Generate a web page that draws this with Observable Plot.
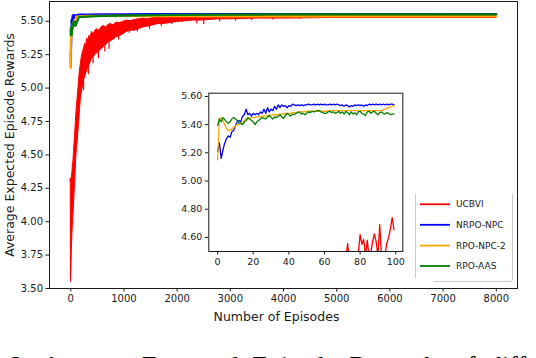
<!DOCTYPE html>
<html>
<head>
<meta charset="utf-8">
<script src="https://cdn.jsdelivr.net/npm/d3@7"></script>
<script src="https://cdn.jsdelivr.net/npm/@observablehq/plot@0.6"></script>
<style>
  html, body { margin: 0; padding: 0; background: #fff; overflow: hidden; }
  #wrap { position: relative; width: 536px; height: 358px; overflow: hidden; background: #fff; }
  #inset { position: absolute; left: 165px; top: 85px; }
  #caption { position: absolute; left: 10px; top: 353px; white-space: nowrap;
    font-family: "Liberation Serif", serif; font-size: 26px; line-height: 26px; word-spacing: 7px; color: #000; }
</style>
</head>
<body>
<div id="wrap"><div id="caption">2: Average Expected Episode Rewards of different</div></div>
<script>
// ---------- data ----------
const seriesNames = ["UCBVI", "NRPO-NPC", "RPO-NPC-2", "RPO-AAS"];
const seriesColors = ["#ff0000", "#0000ff", "#ffa500", "#008000"];

const mainXTicks = [0, 1000, 2000, 3000, 4000, 5000, 6000, 7000, 8000];
const mainYTicks = [3.5, 3.75, 4.0, 4.25, 4.5, 4.75, 5.0, 5.25, 5.5];
const insetXTicks = [0, 20, 40, 60, 80, 100];
const insetYTicks = [4.6, 4.8, 5.0, 5.2, 5.4, 5.6];

// first 100 episodes (inset)
const earlyEpisodes = d3.range(100);
const nrpoEarly = [5.21,5.27,5.16,5.22,5.27,5.30,5.32,5.31,5.35,5.36,5.39,5.42,5.43,5.42,5.46,5.47,5.51,5.47,5.48,5.46,
  5.48,5.47,5.48,5.47,5.49,5.48,5.51,5.48,5.52,5.49,5.51,5.50,5.53,5.51,5.54,5.52,5.54,5.53,5.535,5.52,
  5.535,5.53,5.545,5.54,5.535,5.54,5.535,5.54,5.535,5.54,5.54,5.545,5.54,5.54,5.545,5.54,5.545,5.54,5.545,5.54,
  5.545,5.54,5.54,5.545,5.54,5.545,5.54,5.545,5.54,5.535,5.54,5.53,5.54,5.535,5.525,5.535,5.53,5.54,5.535,5.54,
  5.535,5.54,5.53,5.54,5.535,5.545,5.54,5.545,5.54,5.545,5.54,5.545,5.54,5.545,5.54,5.545,5.54,5.545,5.545,5.54];
const rpoNpc2Early = [5.15,5.44,5.45,5.43,5.40,5.37,5.36,5.36,5.37,5.38,5.39,5.40,5.40,5.41,5.41,5.43,5.44,5.44,5.445,5.45,
  5.45,5.45,5.455,5.455,5.455,5.46,5.46,5.46,5.465,5.465,5.465,5.47,5.47,5.47,5.47,5.475,5.475,5.475,5.48,5.48,
  5.48,5.48,5.485,5.485,5.485,5.49,5.49,5.49,5.49,5.49,5.495,5.495,5.495,5.495,5.495,5.495,5.495,5.495,5.495,5.495,
  5.495,5.495,5.495,5.50,5.50,5.50,5.50,5.50,5.50,5.50,5.50,5.50,5.50,5.50,5.50,5.50,5.50,5.50,5.50,5.50,
  5.50,5.50,5.50,5.50,5.50,5.50,5.50,5.50,5.50,5.50,5.50,5.50,5.50,5.505,5.51,5.515,5.52,5.525,5.53,5.535];
const rpoAasEarly = [5.395,5.44,5.42,5.45,5.435,5.42,5.41,5.42,5.44,5.45,5.44,5.43,5.41,5.41,5.40,5.42,5.43,5.45,5.44,5.43,
  5.42,5.40,5.42,5.43,5.44,5.45,5.445,5.44,5.455,5.465,5.45,5.44,5.455,5.45,5.46,5.47,5.455,5.445,5.465,5.48,
  5.47,5.46,5.475,5.47,5.48,5.485,5.49,5.475,5.48,5.47,5.48,5.49,5.485,5.495,5.49,5.495,5.50,5.50,5.49,5.485,
  5.48,5.48,5.49,5.495,5.485,5.49,5.48,5.485,5.495,5.48,5.49,5.475,5.495,5.485,5.47,5.49,5.475,5.485,5.47,5.49,
  5.495,5.48,5.475,5.465,5.49,5.495,5.48,5.49,5.495,5.48,5.47,5.485,5.49,5.48,5.475,5.485,5.48,5.47,5.475,5.475];
const ucbviInsetEpisodes = d3.range(60, 100);
const ucbviInset = [4.35,4.30,4.38,4.33,4.40,4.36,4.42,4.37,4.44,4.40,4.46,4.41,4.45,4.555,4.42,4.47,4.43,4.46,4.44,4.49,
  4.62,4.55,4.585,4.47,4.58,4.46,4.49,4.57,4.625,4.57,4.47,4.69,4.46,4.44,4.48,4.56,4.60,4.66,4.74,4.655];

// later episodes (main chart)
const lateEpisodes = [150, 300, 600, 1000, 1500, 2000, 3000, 4000, 5000, 6000, 7000, 7999];
const nrpoLate    = [5.55, 5.55, 5.552, 5.552, 5.553, 5.553, 5.554, 5.554, 5.553, 5.553, 5.553, 5.553];
const rpoNpc2Late = [5.535, 5.54, 5.54, 5.54, 5.538, 5.538, 5.537, 5.537, 5.537, 5.537, 5.537, 5.537];
const rpoAasLate  = [5.53, 5.535, 5.54, 5.543, 5.546, 5.548, 5.55, 5.551, 5.551, 5.551, 5.551, 5.551];

// UCBVI noisy envelope over all episodes (lower / upper edge of the dense band)
const ucbviEnvEpisodes = [0,4,10,20,30,40,50,60,70,80,90,100,115,130,145,160,175,190,210,230,
  250,270,290,310,330,350,370,400,430,460,500,540,580,620,660,700,750,800,860,920,
  980,1050,1120,1200,1280,1370,1460,1560,1650,1750,1850,2000,2150,2300,2450,2600,2800,3000,3500,4000,
  5000,6000,7000,7999];
const ucbviLow  = [4.28,3.55,3.62,3.78,3.90,3.98,4.05,4.12,4.20,4.28,4.36,4.45,4.55,4.60,4.68,4.76,4.85,4.92,4.97,5.02,
  5.06,5.08,5.11,5.13,5.16,5.17,5.19,5.22,5.23,5.25,5.26,5.28,5.29,5.31,5.32,5.34,5.35,5.36,5.38,5.39,
  5.40,5.42,5.43,5.43,5.44,5.455,5.46,5.47,5.48,5.48,5.485,5.495,5.50,5.505,5.505,5.51,5.515,5.515,5.52,5.52,
  5.525,5.525,5.525,5.525];
const ucbviHigh = [4.32,4.32,4.30,4.33,4.36,4.42,4.45,4.52,4.58,4.65,4.70,4.78,4.86,4.93,5.00,5.08,5.14,5.18,5.24,5.27,
  5.30,5.33,5.32,5.37,5.35,5.39,5.38,5.42,5.40,5.43,5.44,5.43,5.455,5.465,5.45,5.47,5.48,5.47,5.49,5.485,
  5.495,5.505,5.50,5.51,5.515,5.52,5.515,5.525,5.53,5.525,5.53,5.535,5.53,5.535,5.535,5.54,5.535,5.54,5.54,5.54,
  5.54,5.54,5.54,5.54];
// downward spikes of UCBVI below the band: [episode, low, high]
const ucbviSpikeEpisodes = [240,330,420,520,640,720,900,1100,1250,1480,1700,1900,2100,2370,2500,2800,3100,3400,3800,4300,5200];
const ucbviSpikeLow  = [4.98,5.10,5.18,5.22,5.27,5.29,5.36,5.41,5.42,5.44,5.46,5.475,5.49,5.48,5.475,5.495,5.50,5.505,5.51,5.515,5.52];
const ucbviSpikeHigh = [5.28,5.37,5.41,5.43,5.46,5.47,5.49,5.505,5.515,5.525,5.53,5.535,5.535,5.535,5.54,5.54,5.54,5.54,5.54,5.54,5.54];

// ---------- tables ----------
const mk = (xs, ys) => xs.map((x, i) => ({x, y: ys[i]}));
const nrpoMain = mk(earlyEpisodes.concat(lateEpisodes), nrpoEarly.concat(nrpoLate));
const rpo2Main = mk(earlyEpisodes.concat(lateEpisodes), rpoNpc2Early.concat(rpoNpc2Late));
const aasMain  = mk(earlyEpisodes.concat(lateEpisodes), rpoAasEarly.concat(rpoAasLate));
const ucbEnv = ucbviEnvEpisodes.map((x, i) => ({x, lo: ucbviLow[i], hi: ucbviHigh[i]}));
const ucbSpikes = ucbviSpikeEpisodes.map((x, i) => ({x, lo: ucbviSpikeLow[i], hi: ucbviSpikeHigh[i]}));

const FONT = "DejaVu Sans";
const INK = "#1a1a1a";

// ---------- main chart ----------
const main = Plot.plot({
  width: 536, height: 358,
  marginLeft: 49, marginRight: 19, marginTop: 1, marginBottom: 70,
  style: {fontFamily: FONT, fontSize: "10px", color: INK, background: "transparent"},
  x: {domain: [-400, 8399], ticks: mainXTicks, tickFormat: d3.format("d"), tickSize: 3.5, tickPadding: 3, label: null},
  y: {domain: [3.5, 5.648], ticks: mainYTicks, tickFormat: d3.format(".2f"), tickSize: 3.5, tickPadding: 3, label: null},
  marks: [
    Plot.areaY(ucbEnv, {x: "x", y1: "lo", y2: "hi", fill: seriesColors[0], stroke: seriesColors[0], strokeWidth: 1, clip: true}),
    Plot.ruleX(ucbSpikes, {x: "x", y1: "lo", y2: "hi", stroke: seriesColors[0], strokeWidth: 1.2, clip: true}),
    Plot.line(nrpoMain, {x: "x", y: "y", stroke: seriesColors[1], strokeWidth: 2.2, clip: true}),
    Plot.line(rpo2Main, {x: "x", y: "y", stroke: seriesColors[2], strokeWidth: 2.2, clip: true}),
    Plot.line(aasMain, {x: "x", y: "y", stroke: seriesColors[3], strokeWidth: 2.2, clip: true}),
    Plot.frame({stroke: INK, strokeWidth: 1}),
    Plot.text(["Number of Episodes"], {text: d => d, frameAnchor: "bottom", textAnchor: "middle", lineAnchor: "middle",
      dx: -7, dy: 28, fontSize: 12.5, fill: INK}),
    Plot.text(["Average Expected Episode Rewards"], {text: d => d, frameAnchor: "left", textAnchor: "middle", lineAnchor: "middle",
      rotate: -90, dx: -40, fontSize: 12.5, fill: INK})
  ]
});
document.getElementById("wrap").appendChild(main);

// legend
{
  const svg = d3.select(main);
  const g = svg.append("g").attr("font-family", FONT).attr("font-size", 9).attr("text-anchor", "start");
  const lx0 = 415.5, lx1 = 512.5, ly0 = 194, ly1 = 281.5;
  g.append("path").attr("d", `M${lx0},${ly0}V${ly1 - 3}M${lx1},${ly0}V${ly1 - 2}Q${lx1},${ly1} ${lx1 - 2},${ly1}H${lx0 + 18}`)
    .attr("fill", "none").attr("stroke", "#c8c8c8").attr("stroke-width", 1);
  const ys = [204.3, 224.8, 245.6, 266];
  seriesNames.forEach((name, i) => {
    g.append("line").attr("x1", 420).attr("x2", 450).attr("y1", ys[i]).attr("y2", ys[i])
      .attr("stroke", seriesColors[i]).attr("stroke-width", 1.8);
    g.append("text").attr("x", 456).attr("y", ys[i]).attr("dy", "0.35em").attr("text-anchor", "start")
      .attr("fill", INK).text(name);
  });
}

// ---------- inset ----------
const nrpoIn = mk(earlyEpisodes, nrpoEarly);
const rpo2In = mk(earlyEpisodes, rpoNpc2Early);
const aasIn = mk(earlyEpisodes, rpoAasEarly);
const ucbIn = mk(ucbviInsetEpisodes, ucbviInset);

const inset = Plot.plot({
  width: 245, height: 190,
  marginLeft: 43.3, marginRight: 7.7, marginTop: 7.7, marginBottom: 24,
  style: {fontFamily: FONT, fontSize: "9.5px", color: INK, background: "transparent"},
  x: {domain: [-4.95, 103.95], ticks: insetXTicks, tickFormat: d3.format("d"), tickSize: 3.5, tickPadding: 3, label: null},
  y: {domain: [4.5, 5.623], ticks: insetYTicks, tickFormat: d3.format(".2f"), tickSize: 3.5, tickPadding: 3, label: null},
  marks: [
    Plot.frame({fill: "white", stroke: "none"}),
    Plot.line(ucbIn, {x: "x", y: "y", stroke: seriesColors[0], strokeWidth: 1.3, clip: true}),
    Plot.line(nrpoIn, {x: "x", y: "y", stroke: seriesColors[1], strokeWidth: 1.3, clip: true}),
    Plot.line(rpo2In, {x: "x", y: "y", stroke: seriesColors[2], strokeWidth: 1.3, clip: true}),
    Plot.line(aasIn, {x: "x", y: "y", stroke: seriesColors[3], strokeWidth: 1.3, clip: true}),
    Plot.frame({stroke: INK, strokeWidth: 1})
  ]
});
inset.id = "inset";
document.getElementById("wrap").appendChild(inset);
</script>
</body>
</html>
